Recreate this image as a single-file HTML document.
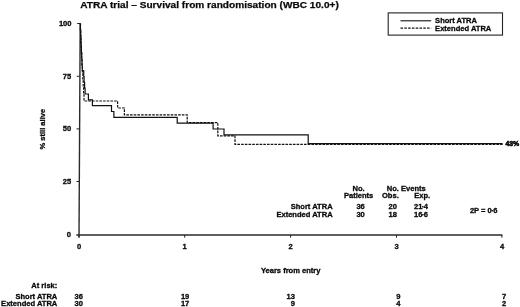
<!DOCTYPE html>
<html><head><meta charset="utf-8"><title>ATRA trial</title>
<style>
html,body{margin:0;padding:0;background:#fff;}
svg{display:block;filter:grayscale(1);will-change:transform}
text{font-family:"Liberation Sans",Arial,Helvetica,sans-serif;font-weight:bold;font-size:7.55px;fill:#0a0a0a;stroke:#0a0a0a;stroke-width:0.3px}
.t{font-size:9.3px;stroke-width:0.25px}
.e{text-anchor:end}
.m{text-anchor:middle}
</style></head><body>
<svg width="520" height="307" viewBox="0 0 520 307">
<rect width="520" height="307" fill="#fff"/>
<text class="t" x="80.2" y="8.3" textLength="258.6" lengthAdjust="spacingAndGlyphs">ATRA trial – Survival from randomisation (WBC 10.0+)</text>
<!-- axes -->
<g stroke="#2a2a2a" stroke-width="1.4" fill="none">
<line x1="80.2" y1="23.3" x2="79" y2="237.6"/>
<line x1="76.3" y1="235" x2="502.4" y2="235" stroke-width="1.3"/>
</g>
<g stroke="#222" stroke-width="1" fill="none">
<line x1="77.2" y1="23.5" x2="80" y2="23.5"/>
<line x1="76.8" y1="76.3" x2="79.6" y2="76.3"/>
<line x1="76.5" y1="128.9" x2="79.4" y2="128.9"/>
<line x1="76.4" y1="181.5" x2="79.2" y2="181.5"/>
<line x1="79" y1="235" x2="79" y2="237.7"/>
<line x1="184.7" y1="235" x2="184.7" y2="237.7"/>
<line x1="290.6" y1="235" x2="290.6" y2="237.7"/>
<line x1="396.5" y1="235" x2="396.5" y2="237.7"/>
<line x1="501.9" y1="235" x2="501.9" y2="237.7"/>
</g>
<!-- y labels -->
<text class="e" x="71.5" y="26.1">100</text>
<text class="e" x="71.2" y="78.6">75</text>
<text class="e" x="71.2" y="131.0">50</text>
<text class="e" x="71.2" y="183.7">25</text>
<text class="e" x="71.0" y="237.2">0</text>
<text class="m" transform="translate(45.4 129.2) rotate(-90)">% still alive</text>
<!-- x labels -->
<text class="m" x="79" y="249.4">0</text>
<text class="m" x="184.6" y="249.4">1</text>
<text class="m" x="290.7" y="249.4">2</text>
<text class="m" x="396.5" y="249.4">3</text>
<text class="m" x="502" y="249.4">4</text>
<text class="m" x="290.7" y="273">Years from entry</text>
<!-- curves -->
<path d="M80.2 24.0 H80.5 V31.0 H80.8 V38.0 H81.1 V45.0 H81.4 V52.0 H81.7 V59.0 H82.0 V66.0 H82.4 V73.0 H82.8 V80.0 H83.2 V87.0 H83.6 V94.0 H84.0 V101.0 H117.6 V108 H124.4 V114.8 H187.2 V122.6 H217.8 V135.8 H235 V144.3 H502.6" stroke="#111" stroke-width="1.2" fill="none" stroke-dasharray="2.6 1.1"/>
<path d="M80.2 24.0 H80.4 V29.8 H80.6 V35.7 H80.8 V41.5 H81.1 V47.3 H81.4 V53.2 H81.7 V59.0 H82.0 V64.8 H82.3 V70.7 H83.7 V76.5 H84.1 V82.3 H84.6 V88.2 H85.1 V94.0 H88.4 V99.8 H92.4 V105.7 H111.5 V111.5 H113.9 V117.3 H177.2 V123.2 H213.1 V129.0 H224.0 V134.8 H308.2 V143.6 H502.6" stroke="#111" stroke-width="1.2" fill="none"/>
<text x="505.4" y="145.7" style="stroke-width:0.6px" textLength="13.9" lengthAdjust="spacingAndGlyphs">43%</text>
<!-- legend -->
<rect x="388.2" y="12.9" width="114.3" height="22.2" fill="#fff" stroke="#222" stroke-width="1.1"/>
<line x1="400.5" y1="20.8" x2="431.2" y2="20.8" stroke="#111" stroke-width="1.1"/>
<line x1="400.5" y1="28.1" x2="431.2" y2="28.1" stroke="#111" stroke-width="1.1" stroke-dasharray="2.5 1.3"/>
<text x="435.1" y="23.4">Short ATRA</text>
<text x="435.1" y="30.9">Extended ATRA</text>
<!-- stats -->
<text class="m" x="358.6" y="190.7">No.</text>
<text class="m" x="358.6" y="198.2">Patients</text>
<text x="386.8" y="190.7">No. Events</text>
<text x="382" y="198.2">Obs.</text>
<text x="414.2" y="198.2">Exp.</text>
<text class="e" x="332.6" y="209.1">Short ATRA</text>
<text class="e" x="332.6" y="216.6">Extended ATRA</text>
<text class="e" x="364.8" y="209.1">36</text>
<text class="e" x="364.8" y="216.6">30</text>
<text class="e" x="396.9" y="209.1">20</text>
<text class="e" x="396.9" y="216.6">18</text>
<text class="e" x="428" y="209.1">21<tspan dx="-0.55">·</tspan><tspan dx="-0.55">4</tspan></text>
<text class="e" x="428" y="216.6">16<tspan dx="-0.55">·</tspan><tspan dx="-0.55">6</tspan></text>
<text x="469.9" y="213.2">2P = 0<tspan dx="-0.5">·</tspan><tspan dx="-0.5">6</tspan></text>
<!-- at risk -->
<text class="e" x="57.3" y="287.6">At risk:</text>
<text class="e" x="57.3" y="298.5">Short ATRA</text>
<text class="e" x="57.3" y="306.1">Extended ATRA</text>
<text class="e" x="83" y="298.6">36</text>
<text class="e" x="83" y="306.2">30</text>
<text class="e" x="189.3" y="298.6">19</text>
<text class="e" x="189.3" y="306.2">17</text>
<text class="e" x="295" y="298.6">13</text>
<text class="e" x="295" y="306.2">9</text>
<text class="e" x="400.4" y="298.6">9</text>
<text class="e" x="400.4" y="306.2">4</text>
<text class="e" x="506.1" y="298.6">7</text>
<text class="e" x="506.1" y="306.2">2</text>
</svg>
</body></html>
